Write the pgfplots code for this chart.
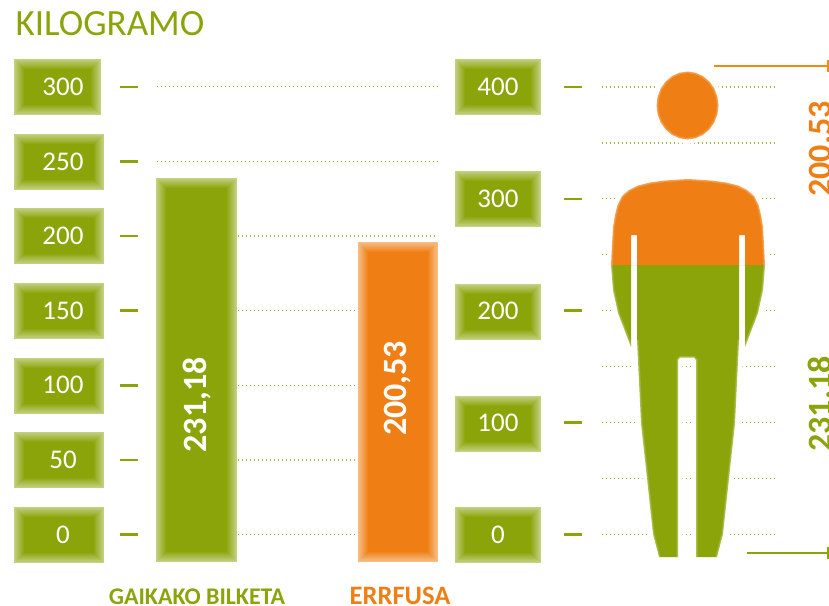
\documentclass[border=0pt]{standalone}
\usepackage{pgfplots}
\pgfplotsset{compat=1.18}
\usepackage{fontspec}
\setmainfont{Carlito}
\newfontfamily\valfont{Carlito}
\definecolor{gr}{HTML}{8AA40A}
\definecolor{orng}{HTML}{EF7F14}
% soft edge of a box: nested rectangles, x0 x1 y0 y1 in picture pixels, colour
\newcommand\softbox[5]{%
  \pgfplotsinvokeforeach{0,1,2,3,4,5,6,7,8,9,10}{%
    \pgfmathsetmacro\xa{#1+##1}\pgfmathsetmacro\xb{#2-##1}%
    \pgfmathsetmacro\ya{#3+##1}\pgfmathsetmacro\yb{#4-##1}%
    \pgfmathtruncatemacro\pc{52+##1*48/10}%
    \edef\temp{\noexpand\addplot[fill=#5!\pc!white,draw=none] coordinates {(\xa,\ya)(\xb,\ya)(\xb,\yb)(\xa,\yb)} --cycle;}%
    \temp
  }%
}
\newcommand\softedge[1]{%
  \addplot[draw=white,draw opacity=.15,line width=3.5pt] coordinates {#1};
  \addplot[draw=white,draw opacity=.15,line width=1.8pt] coordinates {#1};
}
\pgfplotsset{
  pxaxis/.style={at={(0pt,0pt)},anchor=south west,scale only axis,width=829pt,height=605pt,
    xmin=0,xmax=829,ymin=0,ymax=605,y dir=reverse,hide axis,clip=false},
  dots/.style={draw=gr!80!white,line width=1.2pt,dash pattern=on 1.2pt off 2.8pt},
  valaxis/.style={anchor=south west,scale only axis,clip=false,
    axis line style={draw=none},xtick=\empty,ytick pos=left,
    major tick length=18pt,tick align=outside,
    ytick style={draw=gr,line width=2.6pt},
    /pgf/number format/assume math mode=true,
    yticklabel style={anchor=center,font=\fontsize{27}{27}\selectfont,text=white}},
}
\begin{document}
\begin{tikzpicture}[x=1pt,y=1pt]
\path[use as bounding box] (0,0) rectangle (829,605);
% boxes behind the tick labels
\begin{axis}[pxaxis]
\softbox{14}{101}{59}{115}{gr}
\softbox{14}{104}{134}{190}{gr}
\softbox{14}{104}{208}{264}{gr}
\softbox{14}{104}{283}{339}{gr}
\softbox{14}{104}{358}{414}{gr}
\softbox{14}{104}{432}{488}{gr}
\softbox{14}{104}{507}{563}{gr}
\softbox{455}{541}{59}{115}{gr}
\softbox{455}{541}{171}{227}{gr}
\softbox{455}{541}{284}{340}{gr}
\softbox{455}{541}{396}{452}{gr}
\softbox{455}{541}{507}{563}{gr}
\end{axis}
% left chart: y = 0..300, x in picture pixels
\begin{axis}[valaxis,at={(138pt,40.66pt)},width=300pt,height=507.28pt,
  xmin=138,xmax=438,ymin=-20,ymax=320,
  ytick={0,50,100,150,200,250,300},
  yticklabel style={xshift=-57pt},
  xtick={197,400},
  xticklabels={{\fontsize{23.9}{24}\selectfont\bfseries\color{gr}GAIKAKO BILKETA},
               {\fontsize{26.6}{27}\selectfont\bfseries\color{orng}ERRFUSA}},
  x tick style={draw=none},
  xticklabel style={anchor=base,yshift=-22pt},
  xtick pos=bottom,
  ]
\addplot[fill=gr,draw=none] coordinates {(156,-18.4)(237,-18.4)(237,238.9)(156,238.9)} --cycle;
\addplot[fill=orng,draw=none] coordinates {(358,-18.4)(438,-18.4)(438,196)(358,196)} --cycle;
\addplot[dots] coordinates {(238,0)(357,0)};
\addplot[dots] coordinates {(238,50)(357,50)};
\addplot[dots] coordinates {(238,100)(357,100)};
\addplot[dots] coordinates {(238,150)(357,150)};
\addplot[dots] coordinates {(238,200)(438,200)};
\addplot[dots] coordinates {(157,250)(438,250)};
\addplot[dots] coordinates {(157,300)(438,300)};
\end{axis}
% right chart: y = 0..400
\begin{axis}[valaxis,at={(582pt,48.12pt)},width=193pt,height=514.6pt,
  xmin=582,xmax=775,ymin=-20,ymax=440,
  ytick={0,100,200,300,400},
  yticklabel style={xshift=-66pt},
  ]
\addplot[dots] coordinates {(602,0)(775,0)};
\addplot[dots] coordinates {(602,50)(775,50)};
\addplot[dots] coordinates {(602,100)(775,100)};
\addplot[dots] coordinates {(602,150)(775,150)};
\addplot[dots] coordinates {(602,200)(775,200)};
\addplot[dots] coordinates {(602,250)(775,250)};
\addplot[dots] coordinates {(602,300)(775,300)};
\addplot[dots] coordinates {(602,350)(775,350)};
\addplot[dots] coordinates {(602,400)(775,400)};
\end{axis}
% soft bar edges, silhouette, rules and the labels at the right
\begin{axis}[pxaxis]
\softbox{156}{237}{178}{562}{gr}
\softbox{358}{438}{242}{562}{orng}
\node[rotate=90,font=\valfont\bfseries\fontsize{34}{34}\selectfont,text=white] at (axis cs:197,405) {231,18};
\node[rotate=90,font=\valfont\bfseries\fontsize{34}{34}\selectfont,text=white] at (axis cs:398,388.5) {200,53};
\pgfplotstableread{
x y
718.5 105.5
717.4 96.7
714.3 88.5
709.4 81.5
703 76.1
695.5 72.7
687.5 71.5
679.5 72.7
672 76.1
665.6 81.5
660.7 88.5
657.6 96.7
656.5 105.5
657.6 114.3
660.7 122.5
665.6 129.5
672 134.9
679.5 138.3
687.5 139.5
695.5 138.3
703 134.9
709.4 129.5
714.3 122.5
717.4 114.3
}\headtable
\pgfplotstableread{
x y
611 265
612 245
613 227
615 215
617.5 205
622 196
629 190
638 185.5
650 182.5
665 180.5
688 179
711 180.5
726 182.5
738 185.5
747 190
754 196
758.5 205
761 215
763 227
764 245
765 265
745 265
745 235
739 235
739 265
637 265
637 235
631 235
631 265
}\torsotable
\pgfplotstableread{
x y
611 265
613 290
618 313
631 347
631 265
637 265
637 340
641 423
647 478
653 534
659 557
678 557
678 360
680 357.5
694 357.5
696 360
696 557
717 557
723 534
729 478
735 423
739 340
739 265
745 265
745 347
758 313
763 290
765 265
}\legstable
\addplot[draw=white,line width=9pt] table {\headtable} --cycle;
\addplot[draw=white,line width=9pt] table {\torsotable} --cycle;
\addplot[draw=white,line width=9pt] table {\legstable} --cycle;
\addplot[fill=orng,draw=none] table {\headtable} --cycle;
\addplot[fill=orng,draw=none] table {\torsotable} --cycle;
\addplot[fill=gr,draw=none] table {\legstable} --cycle;
\addplot[draw=white,draw opacity=.15,line width=3.5pt] table {\headtable} --cycle;
\addplot[draw=white,draw opacity=.15,line width=1.8pt] table {\headtable} --cycle;
\softedge{(611,265)(612,245)(613,227)(615,215)(617.5,205)(622,196)(629,190)(638,185.5)(650,182.5)(665,180.5)(688,179)(711,180.5)(726,182.5)(738,185.5)(747,190)(754,196)(758.5,205)(761,215)(763,227)(764,245)(765,265)}
\softedge{(611,265)(613,290)(618,313)(631,347)}
\softedge{(765,265)(763,290)(758,313)(745,347)}
\softedge{(637,340)(641,423)(647,478)(653,534)(659,557)}
\softedge{(739,340)(735,423)(729,478)(723,534)(717,557)}
\softedge{(678,557)(678,360)(680,357.5)(694,357.5)(696,360)(696,557)}
% rules
\addplot[draw=orng!90!yellow,line width=2.4pt] coordinates {(714,66)(829,66)};
\addplot[draw=orng!90!yellow,line width=2pt] coordinates {(828,60)(828,72)};
\addplot[draw=gr,line width=2.4pt] coordinates {(747,553)(829,553)};
\addplot[draw=gr,line width=2pt] coordinates {(828,547)(828,559)};
\node[rotate=90,anchor=center,font=\valfont\bfseries\fontsize{34}{34}\selectfont,text=orng] at (axis cs:820,149) {200.53};
\node[rotate=90,anchor=center,font=\valfont\bfseries\fontsize{34}{34}\selectfont,text=gr] at (axis cs:820,404) {231.18};
\node[anchor=west,font=\fontsize{37}{37}\selectfont,text=gr] at (axis cs:12,23.5) {KILOGRAMO};
\end{axis}
\end{tikzpicture}
\end{document}
